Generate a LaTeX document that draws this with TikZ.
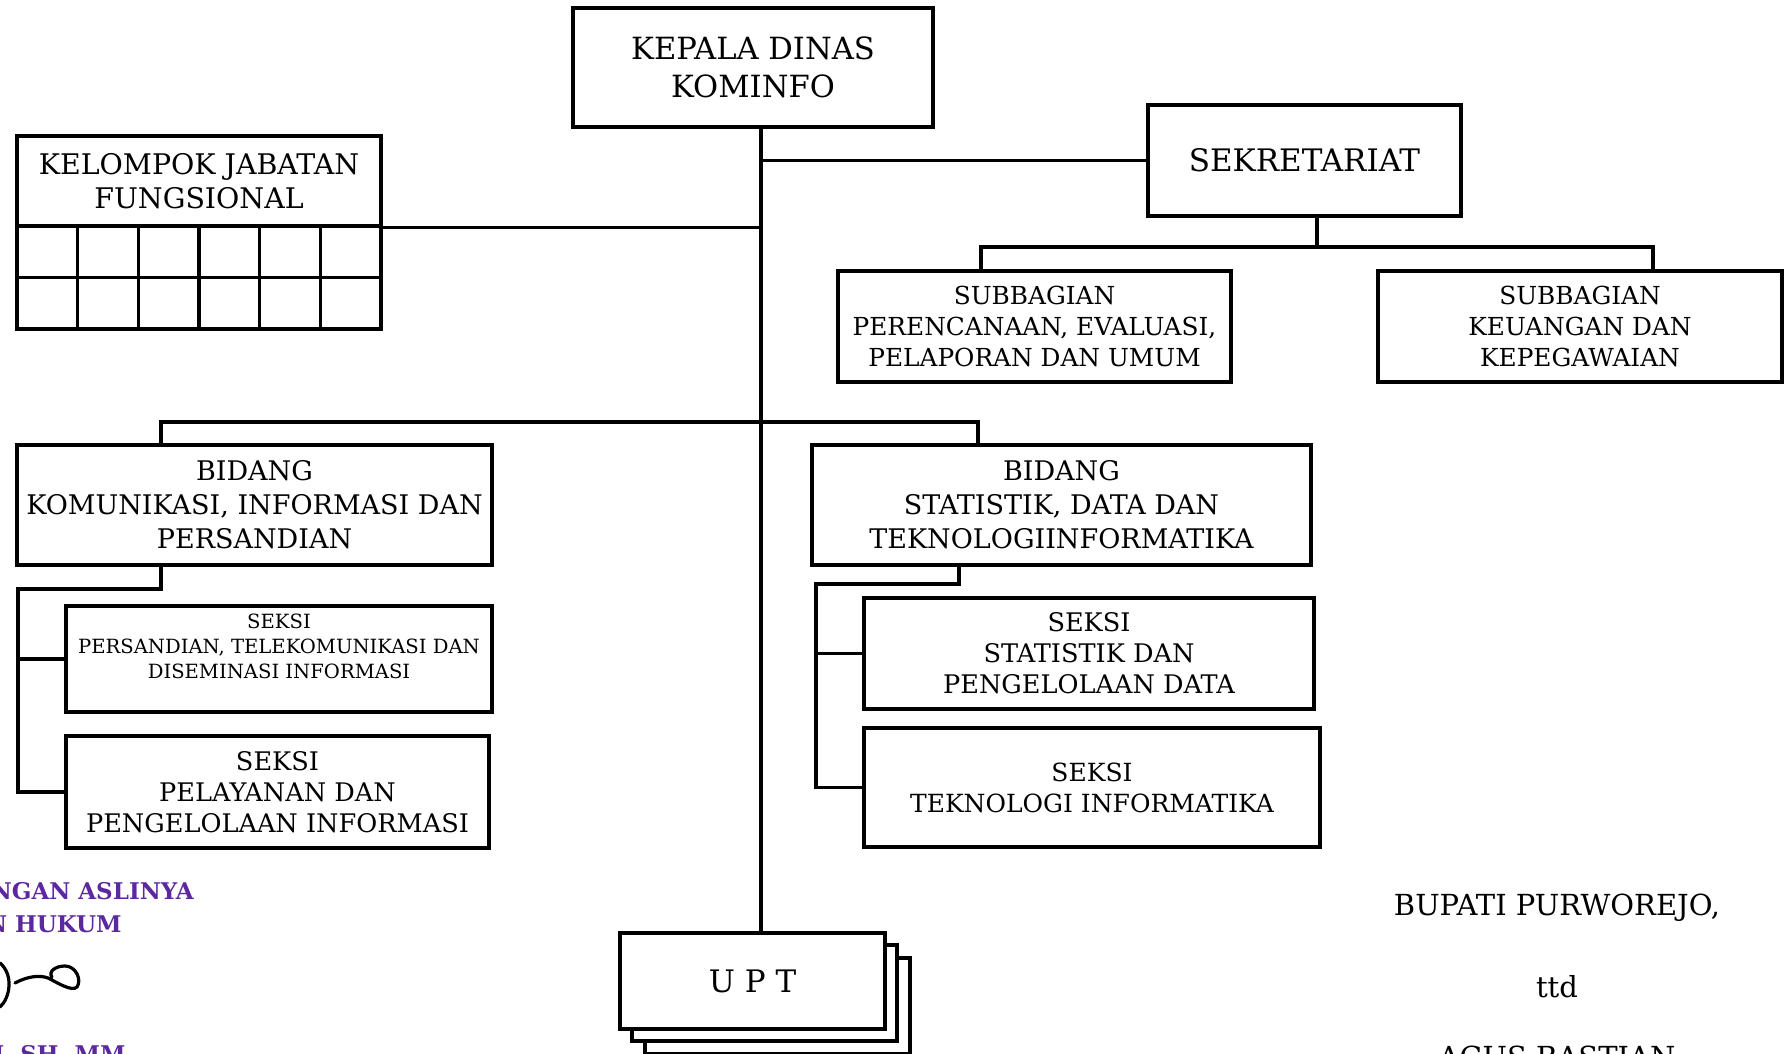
\documentclass[tikz,border=0pt]{standalone}
\usepackage{fontspec}
\setmainfont{DejaVu Serif}
\usepackage{tikz}
\definecolor{stampviolet}{RGB}{92,40,160}
\newcommand{\boxfont}[2]{\fontsize{#1}{#2}\selectfont}
\tikzstyle{unit}=[draw=black,line width=1.7pt,fill=white,inner sep=0pt,align=center]
\tikzstyle{link}=[line width=1.7pt]
\tikzstyle{sign}=[inner sep=0pt,anchor=base,font=\boxfont{14.5}{17}]
\tikzstyle{stamp}=[inner sep=0pt,anchor=base east,text=stampviolet,font=\bfseries\boxfont{11.5}{14}]

\begin{document}
\begin{tikzpicture}[x=0.5pt,y=-0.5pt]

	\useasboundingbox (0,0) rectangle (1790,1054);
	\clip (0,0) rectangle (1790,1054);

	\node  (kadis)   at (753,67.5) [unit,minimum width=180pt,minimum height=59.5pt,font=\boxfont{15.3}{19}] {KEPALA DINAS\\KOMINFO};
	\node  (sekre)   at (1304.5,160.5) [unit,minimum width=156.5pt,minimum height=55.5pt,font=\boxfont{15.5}{19}] {SEKRETARIAT};
	\node  (jafung)  at (199,181) [unit,minimum width=182pt,minimum height=45pt,font=\boxfont{14.2}{17}] {KELOMPOK JABATAN\\FUNGSIONAL};
	\node  (subren)  at (1034.5,326.5) [unit,minimum width=196.5pt,minimum height=55.5pt,font=\boxfont{12.4}{15.5}] {SUBBAGIAN\\PERENCANAAN, EVALUASI,\\PELAPORAN DAN UMUM};
	\node  (subkeu)  at (1580,326.5) [unit,minimum width=202pt,minimum height=55.5pt,font=\boxfont{12.4}{15.5}] {SUBBAGIAN\\KEUANGAN DAN\\KEPEGAWAIAN};
	\node  (bidkom)  at (254.5,505) [unit,minimum width=237.5pt,minimum height=60pt,font=\boxfont{13.5}{17}] {BIDANG\\KOMUNIKASI, INFORMASI DAN\\PERSANDIAN};
	\node  (bidstat) at (1061.5,505) [unit,minimum width=249.5pt,minimum height=60pt,font=\boxfont{13.5}{17}] {BIDANG\\STATISTIK, DATA DAN\\TEKNOLOGIINFORMATIKA};
	\node  (sekpers) at (279,659) [unit,minimum width=213pt,minimum height=53pt,font=\boxfont{9.8}{12.5}] {SEKSI\\PERSANDIAN, TELEKOMUNIKASI DAN\\DISEMINASI INFORMASI\\\mbox{}};
	\node  (sekpel)  at (277.5,792) [unit,minimum width=211.5pt,minimum height=56pt,font=\boxfont{12.8}{15.5}] {SEKSI\\PELAYANAN DAN\\PENGELOLAAN INFORMASI};
	\node  (sekstat) at (1089,653.5) [unit,minimum width=225pt,minimum height=55.5pt,font=\boxfont{12.8}{15.5}] {SEKSI\\STATISTIK DAN\\PENGELOLAAN DATA};
	\node  (sektek)  at (1092,787.5) [unit,minimum width=228pt,minimum height=59.5pt,font=\boxfont{12.5}{15.5}] {SEKSI\\TEKNOLOGI INFORMATIKA};
	\node  (upt3)    at (777.5,1006) [unit,minimum width=132.5pt,minimum height=48pt] {};
	\node  (upt2)    at (764.5,993) [unit,minimum width=132.5pt,minimum height=48pt] {};
	\node  (upt)     at (752.5,981) [unit,minimum width=132.5pt,minimum height=48pt,font=\boxfont{15.5}{19}] {U P T};

	\foreach \c in {0,...,5}
		\foreach \r in {0,1}
			\draw [link] (17+\c*60.67,226+\r*51.5) rectangle ++(60.67,51.5);

	\coordinate (spine) at (761,0);
	\coordinate (sekj)  at (1317,247);
	\coordinate (renj)  at (981,247);
	\coordinate (keuj)  at (1653,247);
	\coordinate (komj)  at (161,422);
	\coordinate (statj) at (978,422);
	\coordinate (komk)  at (161,589);
	\coordinate (koml)  at (18,589);
	\coordinate (statk) at (959,584);
	\coordinate (statl) at (816,584);

	\draw [link] (spine |- kadis.south) to (spine |- upt.north);
	\draw [link] (spine |- sekre.west) to (sekre.west);
	\draw [link] (jafung.south east) to (jafung.south east -| spine);
	\draw [link] (sekj |- sekre.south) to (sekj);
	\draw [link] (renj |- subren.north) -- (renj) -- (keuj) -- (keuj |- subkeu.north);
	\draw [link] (komj |- bidkom.north) -- (komj) -- (statj) -- (statj |- bidstat.north);
	\draw [link] (komk |- bidkom.south) -- (komk) -- (koml) -- (koml |- sekpel.west) -- (sekpel.west);
	\draw [link] (koml |- sekpers.west) to (sekpers.west);
	\draw [link] (statk |- bidstat.south) -- (statk) -- (statl) -- (statl |- sektek.west) -- (sektek.west);
	\draw [link] (statl |- sekstat.west) to (sekstat.west);

	\node  (bupati) at (1557,915) [sign] {BUPATI PURWOREJO,};
	\node  (ttd)    at (1557,997) [sign] {ttd};
	\node  (nama)   at (1557,1067) [sign] {AGUS BASTIAN};

	\node  (stamp1) at (194,899) [stamp] {NGAN ASLINYA};
	\node  (stamp2) at (122,932) [stamp] {N HUKUM};
	\node  (stamp3) at (126,1062) [stamp] {I, SH, MM};
	\draw [line width=1.6pt,line cap=round] (0,963) .. controls (14,975) and (10,998) .. (0,1007);
	\draw [line width=1.6pt,line cap=round] (15,983) .. controls (28,976) and (40,975) .. (48,978)
		.. controls (58,983) and (72,992) .. (77,987) .. controls (82,980) and (76,966) .. (65,966)
		.. controls (55,966) and (48,972) .. (52,977);

\end{tikzpicture}
\end{document}
